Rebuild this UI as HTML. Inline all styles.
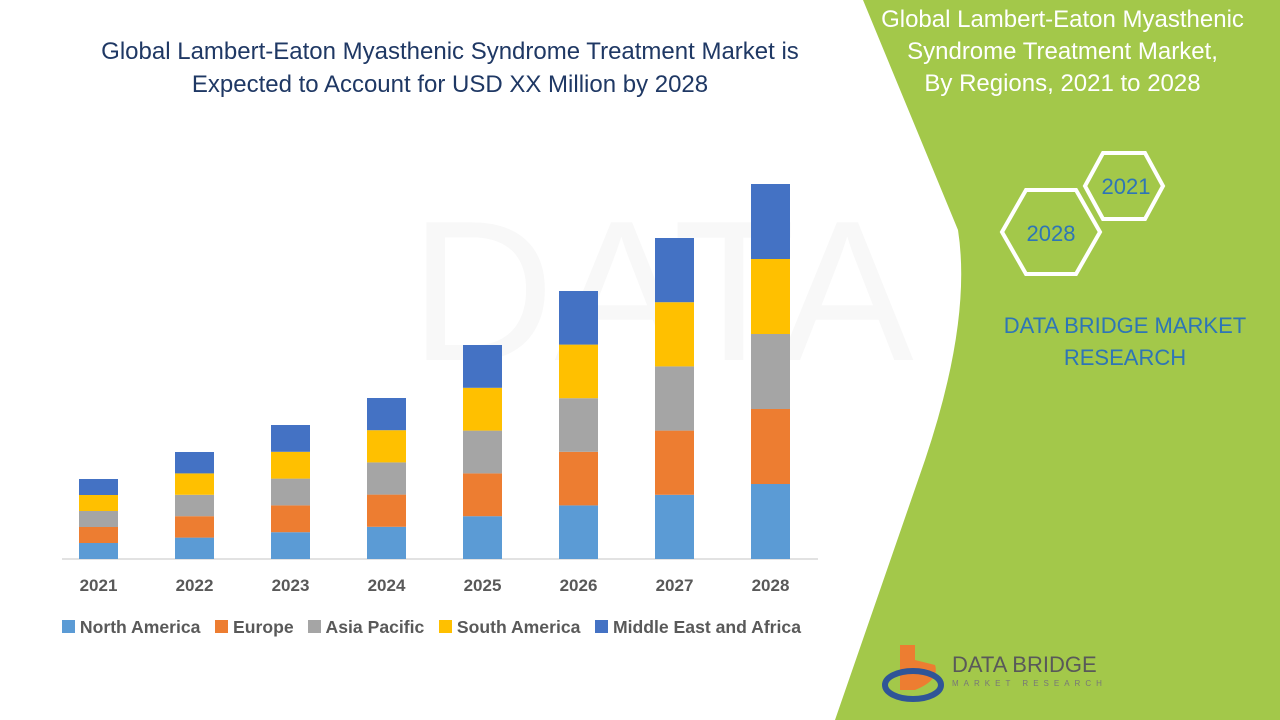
<!DOCTYPE html>
<html><head><meta charset="utf-8"><style>
body{margin:0;width:1280px;height:720px;overflow:hidden;background:#fff;font-family:"Liberation Sans",sans-serif;position:relative}
.t{position:absolute;text-align:center}
</style></head><body>
<svg width="1280" height="720" style="position:absolute;left:0;top:0">
<text x="410" y="360" font-size="200" fill="#f8f8f8" font-family="Liberation Sans">DATA BRIDGE</text>
<path d="M863,0 L1280,0 L1280,720 L835,720 L925,460 Q972,320 958,230 Z" fill="#a3c84a"/>
<line x1="62" y1="559" x2="818" y2="559" stroke="#d9d9d9" stroke-width="1.5"/>
<g id="bars"></g>
<polygon points="1002,232 1026,190 1076,190 1100,232 1076,274 1026,274" fill="none" stroke="#fff" stroke-width="4"/>
<polygon points="1085,186 1103,153 1145,153 1163,186 1145,219 1103,219" fill="none" stroke="#fff" stroke-width="4"/>
<text x="1051" y="241" font-size="22" fill="#2e75b6" text-anchor="middle">2028</text>
<text x="1126" y="194" font-size="22" fill="#2e75b6" text-anchor="middle">2021</text>
<path d="M900,645 L900,690 L915,690 Q940,680 935,665 L915,660 L915,645 Z" fill="#ed7d31"/>
<ellipse cx="913" cy="685" rx="28" ry="14" fill="none" stroke="#2f5597" stroke-width="6"/>
<text x="952" y="672" font-size="22" fill="#595959">DATA BRIDGE</text>
<text x="952" y="686" font-size="8" fill="#777" letter-spacing="5">MARKET RESEARCH</text>
</svg>
<div class="t" style="left:50px;top:35px;width:800px;font-size:24px;line-height:33px;color:#1f3864">Global Lambert-Eaton Myasthenic Syndrome Treatment Market is<br>Expected to Account for USD XX Million by 2028</div>
<div class="t" style="left:860px;top:4px;width:405px;font-size:24px;line-height:32px;color:#fff">Global Lambert-Eaton Myasthenic<br>Syndrome Treatment Market,<br>By Regions, 2021 to 2028</div>
<div class="t" style="left:960px;top:310px;width:330px;font-size:22px;line-height:32px;color:#2e75b6">DATA BRIDGE MARKET<br>RESEARCH</div>
<div id="yrs"></div>
<div style="position:absolute;left:62px;top:617px;font-size:17.6px;font-weight:bold;color:#595959;white-space:nowrap">
<span style="display:inline-block;width:13px;height:13px;background:#5b9bd5"></span> North America&nbsp;&nbsp;
<span style="display:inline-block;width:13px;height:13px;background:#ed7d31"></span> Europe&nbsp;&nbsp;
<span style="display:inline-block;width:13px;height:13px;background:#a5a5a5"></span> Asia Pacific&nbsp;&nbsp;
<span style="display:inline-block;width:13px;height:13px;background:#ffc000"></span> South America&nbsp;&nbsp;
<span style="display:inline-block;width:13px;height:13px;background:#4472c4"></span> Middle East and Africa</div>
<script>
var tops=[479,452,425,398,345,291,238,184],cols=["#5b9bd5","#ed7d31","#a5a5a5","#ffc000","#4472c4"],g=document.getElementById("bars"),s="",y="";
tops.forEach(function(t,i){var x=79+i*96,h=(559-t)/5;for(var k=0;k<5;k++){s+='<rect x="'+x+'" y="'+(559-h*(k+1))+'" width="39" height="'+h+'" fill="'+cols[k]+'"/>';}
y+='<div class="t" style="left:'+(x-20)+'px;top:576px;width:79px;font-size:17px;font-weight:bold;color:#595959">'+(2021+i)+'</div>';});
g.innerHTML=s;document.getElementById("yrs").innerHTML=y;
</script>
</body></html>
